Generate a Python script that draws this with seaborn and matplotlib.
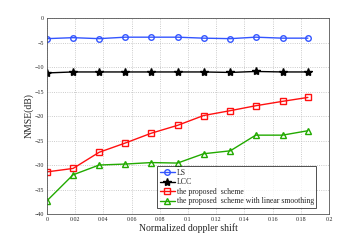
import matplotlib
matplotlib.use('Agg')
import matplotlib.pyplot as plt
import numpy as np
import pandas as pd
import seaborn as sns

shift = [0, 0.0185, 0.037, 0.0556, 0.074, 0.0926, 0.111, 0.13, 0.148, 0.167, 0.185]
ls_nmse = [-4.2, -4.0, -4.2, -3.9, -3.9, -3.9, -4.1, -4.2, -3.9, -4.1, -4.1]
lcc_nmse = [-11.2, -11.0, -11.0, -11.0, -11.0, -11.0, -11.0, -11.1, -10.9, -11.0, -11.0]
proposed_nmse = [-31.4, -30.7, -27.4, -25.5, -23.5, -21.9, -19.9, -18.9, -17.9, -17.0, -16.2]
smooth_nmse = [-37.3, -32.0, -30.0, -29.8, -29.5, -29.6, -27.7, -27.1, -23.9, -23.9, -23.0]

names = ['LS', 'LCC', 'the proposed  scheme', 'the proposed  scheme with linear smoothing']
colors = ['#3355ff', 'black', '#ff1010', '#22aa00']
markers = ['o', '*', 's', '^']

df = pd.DataFrame({
    'shift': shift * 4,
    'nmse': ls_nmse + lcc_nmse + proposed_nmse + smooth_nmse,
    'method': sum([[n] * len(shift) for n in names], []),
})

sns.set_style('white')
plt.rcParams['font.family'] = ['Liberation Serif', 'DejaVu Serif']

fig = plt.figure(figsize=(3.64, 2.41), dpi=100)
ax = fig.add_axes([0.129, 0.112, 0.775, 0.813])

for name, c, m in zip(names, colors, markers):
    sub = df[df['method'] == name]
    filled = m == '*'
    sns.lineplot(data=sub, x='shift', y='nmse', ax=ax, color=c, marker=m,
                 markersize=6 if m == '*' else 4,
                 markerfacecolor=c if filled else 'none',
                 markeredgecolor=c, markeredgewidth=1.0,
                 linewidth=1.0, label=name)

ax.set_xlim(0, 0.2)
ax.set_ylim(-40, 0)
ax.set_xticks(np.arange(0, 0.201, 0.02))
ax.set_xticklabels(['0'] + ['%g' % v for v in np.arange(0.02, 0.201, 0.02)])
ax.set_yticks(np.arange(-40, 1, 5))
ax.tick_params(labelsize=4.3, length=2, width=0.5, direction='in', pad=2)
ax.grid(True, linestyle=':', color='#bbbbbb', linewidth=0.6)
for s in ax.spines.values():
    s.set_color('#555555')
    s.set_linewidth(0.6)

ax.set_xlabel('Normalized doppler shift', fontsize=7, labelpad=1)
ax.set_ylabel('NMSE(dB)', fontsize=7, labelpad=1)

leg = ax.legend(loc='lower right', fontsize=5.6, handlelength=2.0, borderpad=0.3,
                labelspacing=0.2, handletextpad=0.2, frameon=True, fancybox=False,
                bbox_to_anchor=(0.968, 0.012))
leg.get_frame().set_edgecolor('black')
leg.get_frame().set_linewidth(0.6)

fig.savefig('out.png', dpi=100)
